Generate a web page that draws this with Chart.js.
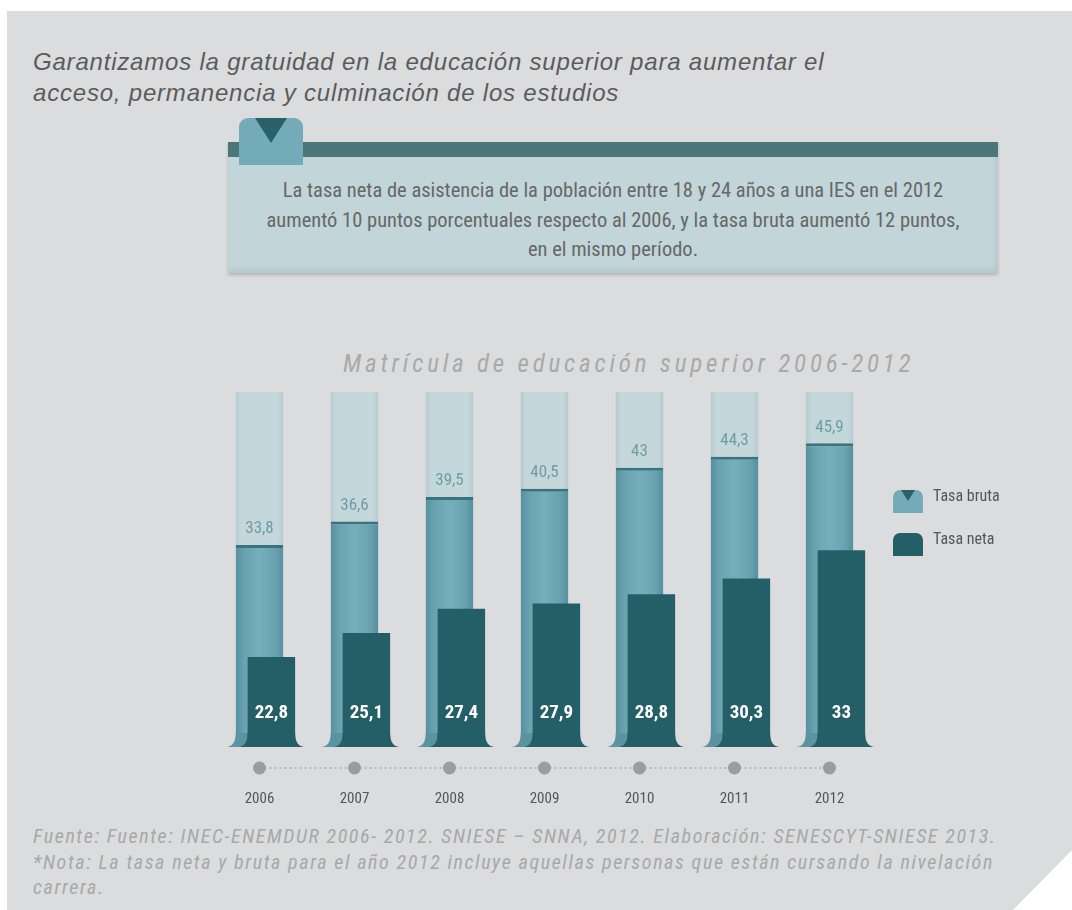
<!DOCTYPE html>
<html lang="es">
<head>
<meta charset="utf-8">
<title>Matrícula de educación superior 2006-2012</title>
<script src="https://cdn.jsdelivr.net/npm/chart.js@4.4.1/dist/chart.umd.min.js"></script>
<style>
  html, body { margin: 0; padding: 0; background: #fff; }
  body { width: 1072px; height: 910px; position: relative; overflow: hidden; font-family: "Liberation Sans", Arial, sans-serif; }
  .abs { position: absolute; white-space: nowrap; }
  .narrow { font-family: "Liberation Sans Narrow", "Arial Narrow", "Roboto Condensed", "DejaVu Sans Condensed", sans-serif; }
  #panel { position: absolute; left: 7px; top: 11px; width: 1065px; height: 899px; background: #dbdcde;
           clip-path: polygon(0 0, 100% 0, 100% 839px, 1006px 100%, 0 100%); }
  #titulo { left: 33px; top: 46px; font-size: 24px; line-height: 31px; font-style: italic; letter-spacing: 0.8px; color: #5b5b5b; }
  #caja { left: 228px; top: 142px; width: 770px; height: 131px; background: #c2d5d9;
          box-shadow: 0 2px 3px rgba(0,0,0,0.18), inset -3px -4px 5px rgba(0,0,0,0.06); }
  #caja .barra { position: absolute; left: 0; top: 0; width: 100%; height: 15px; background: #4a767c; }
  #pestana { left: 239px; top: 118px; width: 64px; height: 47px; background: #74abb9; border-radius: 9px 9px 0 0; }
  #triangulo { left: 255px; top: 118px; width: 0; height: 0; border-left: 16px solid transparent;
               border-right: 16px solid transparent; border-top: 25px solid #2a6168; }
  #nota { left: 228px; width: 770px; top: 176px; text-align: center; font-size: 20.5px; line-height: 29.5px; color: #676767; }
  #subtitulo { left: 343px; top: 351px; font-size: 25px; line-height: 25px; font-style: italic; letter-spacing: 3.8px; color: #a9a9a9; }
  #fuente { left: 33px; top: 824px; font-size: 20px; line-height: 25.5px; font-style: italic; letter-spacing: 1.6px; color: #a8a8a8; }
  #grafico { position: absolute; left: 0; top: 380px; width: 1072px; height: 440px; }
</style>
</head>
<body>
<div id="panel"></div>
<div id="titulo" class="abs">Garantizamos la gratuidad en la educación superior para aumentar el<br>acceso, permanencia y culminación de los estudios</div>
<div id="caja" class="abs"><div class="barra"></div></div>
<div id="pestana" class="abs"></div>
<div id="triangulo" class="abs"></div>
<div id="nota" class="abs narrow">La tasa neta de asistencia de la población entre 18 y 24 años a una IES en el 2012<br>aumentó 10 puntos porcentuales respecto al 2006, y la tasa bruta aumentó 12 puntos,<br>en el mismo período.</div>
<div id="subtitulo" class="abs narrow">Matrícula de educación superior 2006-2012</div>
<div id="grafico"><canvas id="chart" width="1072" height="440"></canvas></div>
<div id="fuente" class="abs narrow">Fuente: Fuente: INEC-ENEMDUR 2006- 2012. SNIESE – SNNA, 2012. Elaboración: SENESCYT-SNIESE 2013.<br>*Nota: La tasa neta y bruta para el año 2012 incluye aquellas personas que están cursando la nivelación<br>carrera.</div>

<script>
const years = ["2006", "2007", "2008", "2009", "2010", "2011", "2012"];
const tasaBruta = [33.8, 36.6, 39.5, 40.5, 43, 44.3, 45.9];
const tasaNeta = [22.8, 25.1, 27.4, 27.9, 28.8, 30.3, 33];

const narrowFont = "'Liberation Sans Narrow', 'Arial Narrow', 'Roboto Condensed', 'DejaVu Sans Condensed', sans-serif";
Chart.defaults.font.family = narrowFont;

const fmt = v => String(v).replace(".", ",");

// gradient for the "tasa bruta" bars (darker edges, lighter middle)
function brutaFill(context) {
    const chart = context.chart;
    const xs = chart.scales.x;
    if (!xs || context.dataIndex === undefined) return "#6fa6b3";
    const cx = xs.getPixelForValue(context.dataIndex);
    const w = xs.width / years.length * 0.5;
    if (!isFinite(cx) || !isFinite(w) || w <= 0) return "#6fa6b3";
    const g = chart.ctx.createLinearGradient(cx - w / 2, 0, cx + w / 2, 0);
    g.addColorStop(0, "#55909e");
    g.addColorStop(0.18, "#6aa2b0");
    g.addColorStop(0.5, "#78aebb");
    g.addColorStop(0.82, "#6aa2b0");
    g.addColorStop(1, "#55909e");
    return g;
}

// light columns behind each year
const columnasFondo = {
    id: "columnasFondo",
    beforeDatasetsDraw(chart) {
        const { ctx, chartArea, scales } = chart;
        const meta = chart.getDatasetMeta(0);
        ctx.save();
        years.forEach((y, i) => {
            const cx = scales.x.getPixelForValue(i);
            const w = meta.data[i].width;
            const g = ctx.createLinearGradient(cx - w / 2, 0, cx + w / 2, 0);
            g.addColorStop(0, "#b6ccd1");
            g.addColorStop(0.12, "#c4d7db");
            g.addColorStop(0.88, "#c4d7db");
            g.addColorStop(1, "#b6ccd1");
            ctx.fillStyle = g;
            ctx.fillRect(cx - w / 2, chartArea.top, w, chartArea.bottom - chartArea.top - 4);
        });
        ctx.restore();
    }
};

// flared feet under the bars
const pies = {
    id: "pies",
    afterDatasetDraw(chart, args) {
        const ctx = chart.ctx;
        const color = args.index === 0 ? "#5a94a2" : "#245f68";
        const b = chart.chartArea.bottom;
        ctx.save();
        ctx.fillStyle = color;
        args.meta.data.forEach(el => {
            const l = el.x - el.width / 2, r = el.x + el.width / 2;
            ctx.beginPath();
            ctx.moveTo(l, b - 12);
            ctx.quadraticCurveTo(l, b + 1, l - 9, b + 2);
            ctx.lineTo(r + 9, b + 2);
            ctx.quadraticCurveTo(r, b + 1, r, b - 12);
            ctx.closePath();
            ctx.fill();
        });
        ctx.restore();
    }
};

// value labels
const etiquetas = {
    id: "etiquetas",
    afterDatasetsDraw(chart) {
        const { ctx, chartArea } = chart;
        ctx.save();
        ctx.textAlign = "center";
        ctx.textBaseline = "middle";
        chart.getDatasetMeta(0).data.forEach((el, i) => {
            ctx.font = "17px " + narrowFont;
            ctx.fillStyle = "#6e9ca7";
            ctx.fillText(fmt(tasaBruta[i]), el.x, el.y - 16);
        });
        chart.getDatasetMeta(1).data.forEach((el, i) => {
            ctx.font = "bold 19px " + narrowFont;
            ctx.fillStyle = "#ffffff";
            ctx.fillText(fmt(tasaNeta[i]), el.x, chartArea.bottom - 32);
        });
        ctx.restore();
    }
};

// dotted timeline with dots under the bars
const lineaTiempo = {
    id: "lineaTiempo",
    afterDraw(chart) {
        const { ctx, chartArea, scales } = chart;
        const y = chartArea.bottom + 23;
        const x0 = scales.x.getPixelForValue(0);
        const x1 = scales.x.getPixelForValue(years.length - 1);
        ctx.save();
        ctx.strokeStyle = "#acacac";
        ctx.lineWidth = 1.5;
        ctx.setLineDash([2, 3]);
        ctx.beginPath();
        ctx.moveTo(x0, y);
        ctx.lineTo(x1, y);
        ctx.stroke();
        ctx.fillStyle = "#9c9c9c";
        years.forEach((yr, i) => {
            ctx.beginPath();
            ctx.arc(scales.x.getPixelForValue(i), y, 6.5, 0, Math.PI * 2);
            ctx.fill();
        });
        ctx.restore();
    }
};

// legend at the right of the bars
const leyenda = {
    id: "leyenda",
    afterDraw(chart) {
        const { ctx, chartArea } = chart;
        const x = chartArea.right + 16;
        const rows = [chartArea.top + 98, chartArea.top + 141];
        ctx.save();
        chart.data.datasets.forEach((ds, i) => {
            const y = rows[i];
            ctx.fillStyle = i === 0 ? "#74abb9" : "#245f68";
            ctx.beginPath();
            ctx.roundRect(x, y, 30, 23, [7, 7, 0, 0]);
            ctx.fill();
            if (i === 0) {
                ctx.fillStyle = "#2a6168";
                ctx.beginPath();
                ctx.moveTo(x + 8, y);
                ctx.lineTo(x + 22, y);
                ctx.lineTo(x + 15, y + 11);
                ctx.closePath();
                ctx.fill();
            }
            ctx.font = "16px " + narrowFont;
            ctx.fillStyle = "#555";
            ctx.textBaseline = "middle";
            ctx.fillText(ds.label, x + 40, y + 7);
        });
        ctx.restore();
    }
};

const ctx = document.getElementById("chart").getContext("2d");

const chart = new Chart(ctx, {
    type: "bar",
    data: {
        labels: years,
        datasets: [
            {
                label: "Tasa bruta",
                data: tasaBruta,
                xAxisID: "x",
                yAxisID: "y",
                order: 2,
                grouped: false,
                barPercentage: 0.5,
                categoryPercentage: 1,
                backgroundColor: brutaFill,
                borderColor: "#3b737d",
                borderWidth: { top: 3, left: 0, right: 0, bottom: 0 }
            },
            {
                label: "Tasa neta",
                data: tasaNeta.map((v, i) => ({ x: i, y: v })),
                xAxisID: "x2",
                yAxisID: "y2",
                order: 1,
                grouped: false,
                barPercentage: 0.5,
                categoryPercentage: 1,
                backgroundColor: "#245f68"
            }
        ]
    },
    options: {
        responsive: false,
        animation: false,
        layout: { padding: { left: 212, right: 195, top: 12, bottom: 15 } },
        plugins: {
            legend: { display: false },
            tooltip: { enabled: false }
        },
        scales: {
            x: {
                type: "category",
                grid: { display: false, drawTicks: false },
                border: { display: false },
                ticks: { padding: 45, color: "#555", font: { size: 15 } },
                afterFit(scale) { scale.height = 60; }
            },
            // same slots as x, shifted a little to the right for the "neta" bars
            x2: { type: "linear", display: false, offset: false, min: -0.625, max: 6.375 },
            y: { display: false, min: 10, max: 52 },
            y2: { display: false, min: 14.4, max: 48.1 }
        }
    },
    plugins: [columnasFondo, pies, etiquetas, lineaTiempo, leyenda]
});
</script>
</body>
</html>
